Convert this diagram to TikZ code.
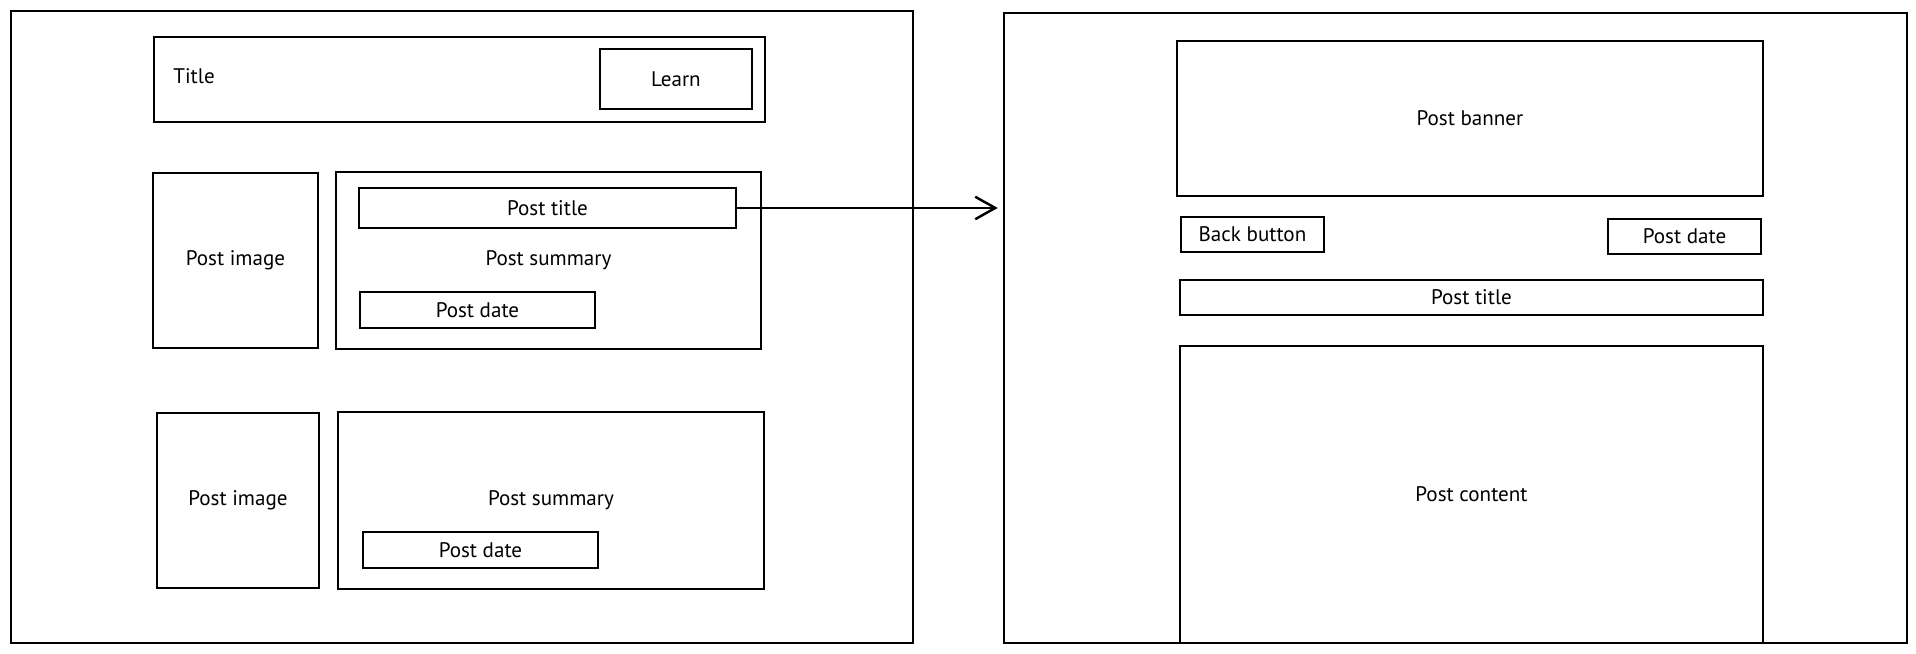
\documentclass[tikz,border=0pt]{standalone}
\usepackage{fontspec}
\setmainfont{PT Sans}
\usetikzlibrary{arrows.meta,positioning}

\tikzset{
    box/.style={draw, line width=1.1pt, inner sep=0pt},
    wh/.style 2 args={minimum width=#1*0.02cm, minimum height=#2*0.02cm}
}

\begin{document}
\begin{tikzpicture}[x=0.02cm,y=-0.02cm, font=\fontsize{12}{14}\selectfont]
    \useasboundingbox (0,0) rectangle (1916,653);

    % list page
    \node[box, wh={902}{632}, anchor=north west] (lframe) at (10,10) {};
    \node[box, wh={611}{85}, anchor=north west] (header) at (153,36) {};
    \node[anchor=west, inner sep=0pt] (titletxt) at (173,76) {Title};
    \node[box, wh={152}{60}, anchor=north west] (learn) at (599,48) {Learn};

    % first post
    \node[box, wh={165}{175}, anchor=north west] (imgA) at (152,172) {Post image};
    \node[box, wh={425}{177}, anchor=north west] (sumA) at (335,171) {Post summary};
    \node[box, wh={377}{40}, anchor=north west] (ptitleA) at (358,187) {Post title};
    \node[box, wh={235}{36}, anchor=north west] (pdateA) at (359,291) {Post date};

    % second post
    \node[box, wh={162}{175}, anchor=north west] (imgB) at (156,412) {Post image};
    \node[box, wh={426}{177}, anchor=north west] (sumB) at (337,411) {Post summary};
    \node[box, wh={235}{36}, anchor=north west] (pdateB) at (362,531) {Post date};

    % detail page
    \node[box, wh={903}{630}, anchor=north west] (rframe) at (1003,12) {};
    \node[box, wh={586}{155}, anchor=north west] (banner) at (1176,40) {Post banner};
    \node[box, wh={143}{35}, anchor=north west] (back) at (1180,216) {Back button};
    \node[box, wh={153}{35}, anchor=north west] (pdateC) at (1607,218) {Post date};
    \node[box, wh={583}{35}, anchor=north west] (ptitleC) at (1179,279) {Post title};
    \node[box, wh={583}{297}, anchor=north west] (content) at (1179,345) {Post content};

    % link
    \draw[line width=1.4pt, -{Straight Barb[length=4mm,width=4.5mm]}, shorten >=3pt]
        (ptitleA.east) -- (ptitleA.east -| rframe.west);
\end{tikzpicture}
\end{document}
